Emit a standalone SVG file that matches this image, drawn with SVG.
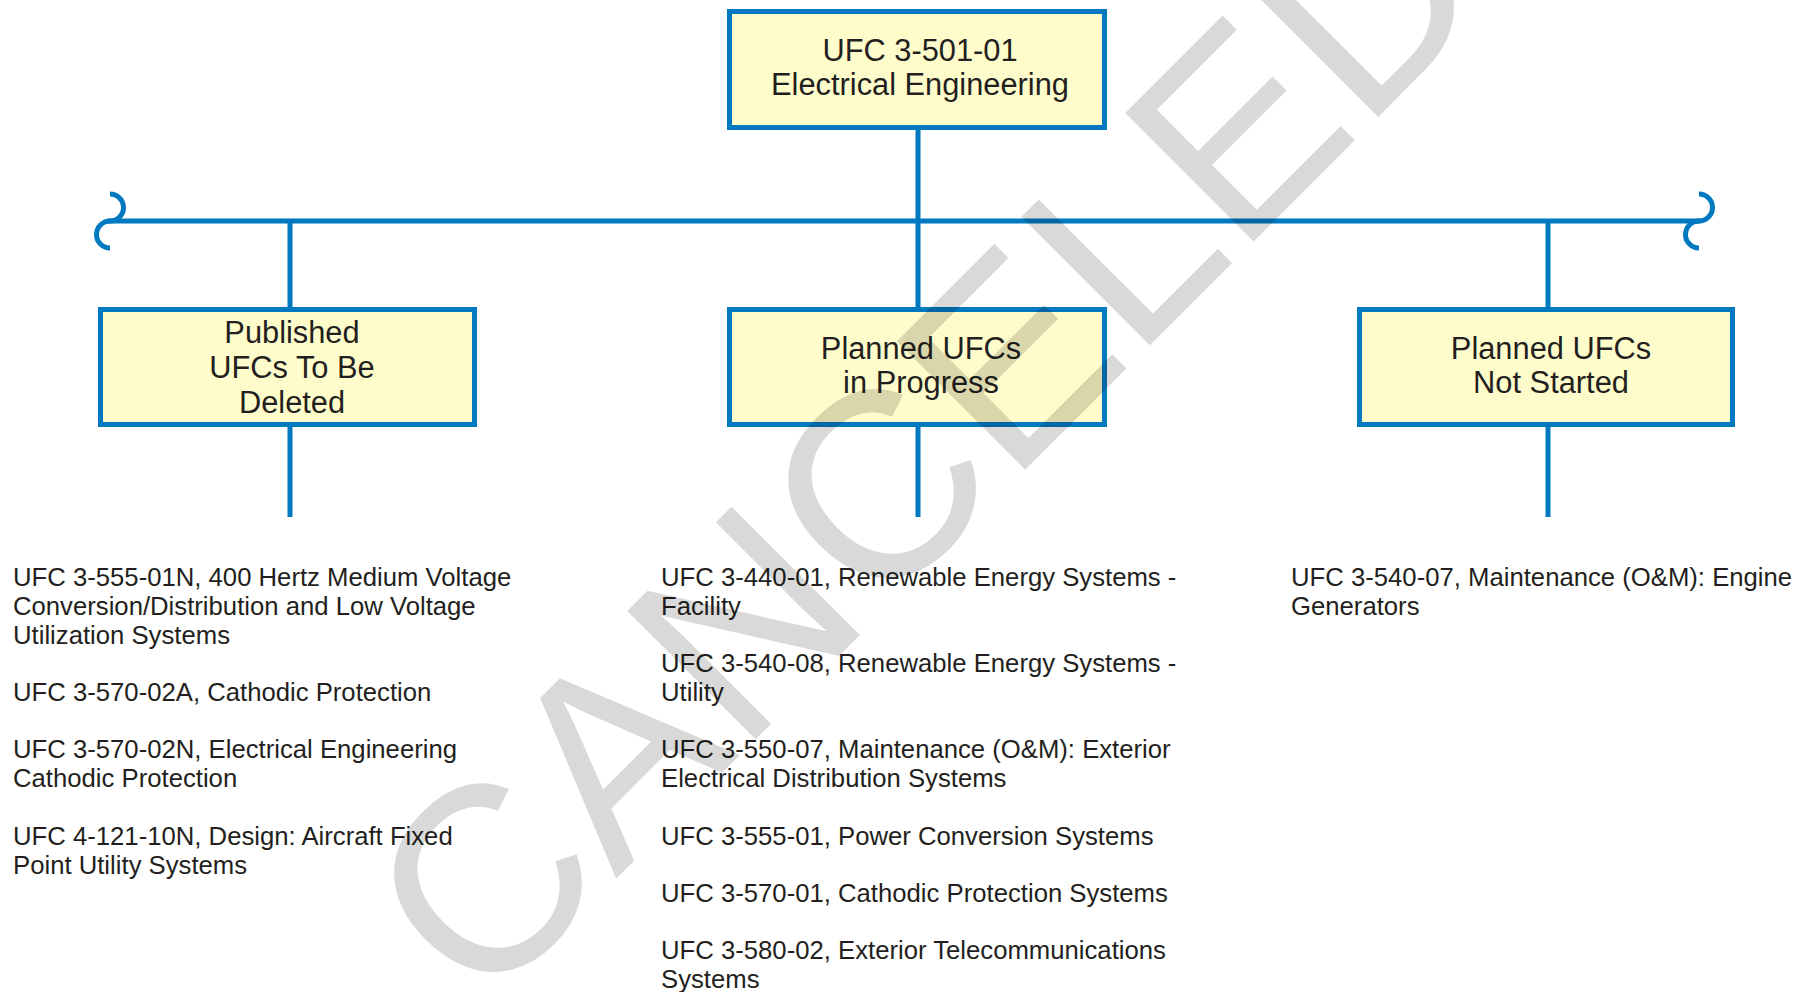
<svg xmlns="http://www.w3.org/2000/svg" width="1807" height="992" viewBox="0 0 1807 992">
<style>
.box{fill:#fffccb;stroke:#0079c1;stroke-width:5}
.ln{stroke:#0079c1;stroke-width:5;fill:none}
.bt{font-family:"Liberation Sans",Arial,sans-serif;font-size:30.8px;fill:#231f20;text-anchor:middle}
.lt{font-family:"Liberation Sans",Arial,sans-serif;font-size:25.7px;fill:#231f20}
.wm{font-family:"Liberation Sans",Arial,sans-serif;font-size:264px;fill:#000;fill-opacity:0.15}
</style>
<rect width="1807" height="992" fill="#ffffff"/>
<g id="connectors">
<line class="ln" x1="918" y1="130" x2="918" y2="307"/>
<line class="ln" x1="108" y1="221" x2="1700" y2="221"/>
<path class="ln" d="M110 194 a13.5 13.5 0 0 1 0 27 a13.5 13.5 0 0 0 0 27"/>
<path class="ln" d="M1699 194 a13.5 13.5 0 0 1 0 27 a13.5 13.5 0 0 0 0 27"/>
<line class="ln" x1="290" y1="221" x2="290" y2="307"/>
<line class="ln" x1="1548" y1="221" x2="1548" y2="307"/>
<line class="ln" x1="290" y1="427" x2="290" y2="517"/>
<line class="ln" x1="918" y1="427" x2="918" y2="517"/>
<line class="ln" x1="1548" y1="427" x2="1548" y2="517"/>
</g>
<g id="top">
<rect class="box" x="729.5" y="11.5" width="375" height="116"/>
<text class="bt" x="920" y="61">UFC 3-501-01</text>
<text class="bt" x="920" y="95">Electrical Engineering</text>
</g>
<g id="published">
<rect class="box" x="100.5" y="309.5" width="374" height="115"/>
<text class="bt" x="292" y="343">Published</text>
<text class="bt" x="292" y="378">UFCs To Be</text>
<text class="bt" x="292" y="413">Deleted</text>
</g>
<g id="inprogress">
<rect class="box" x="729.5" y="309.5" width="375" height="115"/>
<text class="bt" x="921" y="359">Planned UFCs</text>
<text class="bt" x="921" y="393">in Progress</text>
</g>
<g id="notstarted">
<rect class="box" x="1359.5" y="309.5" width="373" height="115"/>
<text class="bt" x="1551" y="359">Planned UFCs</text>
<text class="bt" x="1551" y="393">Not Started</text>
</g>
<g id="list-published">
<text class="lt" x="13" y="586">UFC 3-555-01N, 400 Hertz Medium Voltage</text>
<text class="lt" x="13" y="615">Conversion/Distribution and Low Voltage</text>
<text class="lt" x="13" y="644">Utilization Systems</text>
<text class="lt" x="13" y="701">UFC 3-570-02A, Cathodic Protection</text>
<text class="lt" x="13" y="758">UFC 3-570-02N, Electrical Engineering</text>
<text class="lt" x="13" y="787">Cathodic Protection</text>
<text class="lt" x="13" y="845">UFC 4-121-10N, Design: Aircraft Fixed</text>
<text class="lt" x="13" y="874">Point Utility Systems</text>
</g>
<g id="list-inprogress">
<text class="lt" x="661" y="586">UFC 3-440-01, Renewable Energy Systems -</text>
<text class="lt" x="661" y="615">Facility</text>
<text class="lt" x="661" y="672">UFC 3-540-08, Renewable Energy Systems -</text>
<text class="lt" x="661" y="701">Utility</text>
<text class="lt" x="661" y="758">UFC 3-550-07, Maintenance (O&amp;M): Exterior</text>
<text class="lt" x="661" y="787">Electrical Distribution Systems</text>
<text class="lt" x="661" y="845">UFC 3-555-01, Power Conversion Systems</text>
<text class="lt" x="661" y="902">UFC 3-570-01, Cathodic Protection Systems</text>
<text class="lt" x="661" y="959">UFC 3-580-02, Exterior Telecommunications</text>
<text class="lt" x="661" y="988">Systems</text>
</g>
<g id="list-notstarted">
<text class="lt" x="1291" y="586">UFC 3-540-07, Maintenance (O&amp;M): Engine</text>
<text class="lt" x="1291" y="615">Generators</text>
</g>
<text class="wm" x="0" y="0" transform="translate(481,1014) rotate(-45)">CANCELED</text>
</svg>
